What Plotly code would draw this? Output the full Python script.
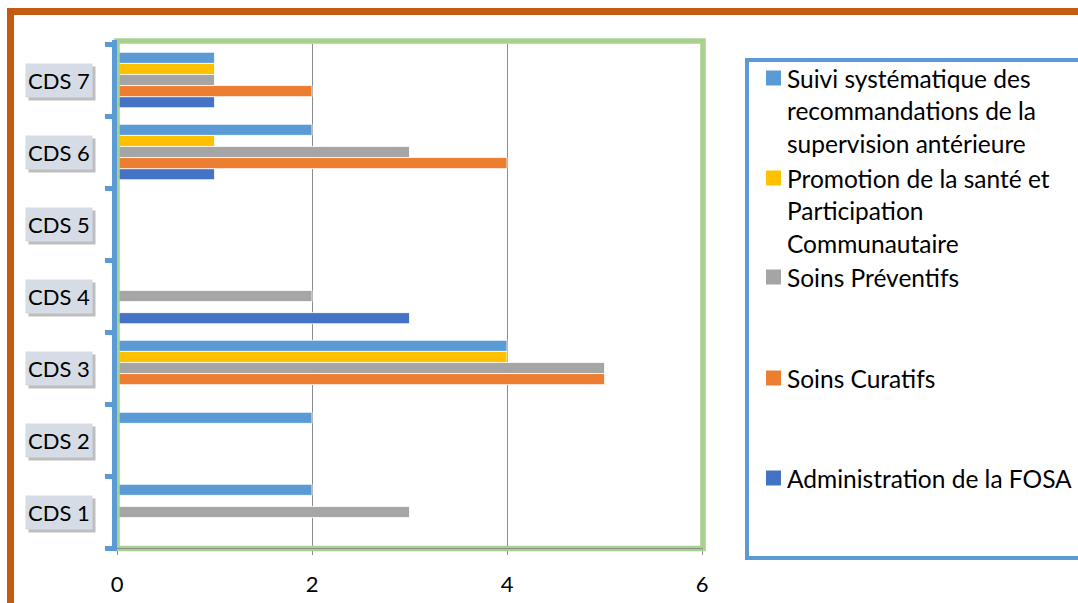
import plotly.graph_objects as go

# ---- data ----
categories = ["CDS 1", "CDS 2", "CDS 3", "CDS 4", "CDS 5", "CDS 6", "CDS 7"]
admin_fosa = [0, 0, 0, 3, 0, 1, 1]
soins_curatifs = [0, 0, 5, 0, 0, 4, 2]
soins_preventifs = [3, 0, 5, 2, 0, 3, 1]
promotion_sante = [0, 0, 4, 0, 0, 1, 1]
suivi_recommandations = [2, 2, 4, 0, 0, 2, 1]

series_names = [
    "Administration de la FOSA",
    "Soins Curatifs",
    "Soins Préventifs",
    "Promotion de la santé et Participation Communautaire",
    "Suivi systématique des recommandations de la supervision antérieure",
]
series_values = [admin_fosa, soins_curatifs, soins_preventifs, promotion_sante, suivi_recommandations]
series_colors = ["#4472c4", "#ed7d31", "#a5a5a5", "#ffc000", "#5b9bd5"]

# legend (top to bottom), wrapped as in the original
legend_lines = [
    ["Suivi systématique des", "recommandations de la", "supervision antérieure"],
    ["Promotion de la santé et", "Participation", "Communautaire"],
    ["Soins Préventifs"],
    ["Soins Curatifs"],
    ["Administration de la FOSA"],
]
legend_colors = ["#5b9bd5", "#ffc000", "#a5a5a5", "#ed7d31", "#4472c4"]
x_ticks = [0, 2, 4, 6]

W, H = 1078, 603
PL, PR, PT, PB = 117, 702, 44, 548
FONT = "Lato"


def px(x):
    return (x - PL) / (PR - PL)


def py(y):
    return (PB - y) / (PB - PT)


fig = go.Figure()
for name, vals, col in zip(series_names, series_values, series_colors):
    fig.add_trace(go.Bar(
        y=categories, x=vals, orientation="h", name=name,
        marker=dict(color=col, line=dict(color="rgba(255,255,255,0.8)", width=1)),
    ))

shapes = []
# outer orange frame
shapes.append(dict(type="rect", xref="paper", yref="paper",
                   x0=px(10.5), x1=px(1095), y0=py(11.5), y1=py(620),
                   line=dict(color="#c55a11", width=7), fillcolor="rgba(0,0,0,0)", layer="above"))
# green plot border
shapes.append(dict(type="rect", xref="paper", yref="paper",
                   x0=px(117), x1=px(703), y0=py(41), y1=py(548.5),
                   line=dict(color="#a9d18e", width=5.5), fillcolor="rgba(0,0,0,0)", layer="above"))
# thin grey value-axis line inside the green border
shapes.append(dict(type="line", xref="paper", yref="paper",
                   x0=px(117), x1=px(703), y0=py(548.5), y1=py(548.5),
                   line=dict(color="#8c8c8c", width=1), layer="above"))
# blue category axis line over the border
shapes.append(dict(type="line", xref="paper", yref="paper",
                   x0=px(114.5), x1=px(114.5), y0=py(40), y1=py(551),
                   line=dict(color="#5b9bd5", width=5), layer="above"))
# legend box
shapes.append(dict(type="rect", xref="paper", yref="paper",
                   x0=px(747), x1=px(1095), y0=py(60), y1=py(558),
                   line=dict(color="#5b9bd5", width=4), fillcolor="rgba(0,0,0,0)", layer="above"))

annotations = []
# category labels with shaded boxes
for i, cat in enumerate(categories):
    annotations.append(dict(
        xref="paper", yref="y", x=px(61.5), y=i, yshift=-3, text="",
        showarrow=False, width=64, height=31, bgcolor="rgba(70,70,70,0.35)",
        xanchor="center", yanchor="middle"))
    annotations.append(dict(
        xref="paper", yref="y", x=px(58.5), y=i, yshift=0, text=cat,
        showarrow=False, width=64, height=31, bgcolor="#d6dce5",
        font=dict(family=FONT, size=22, color="#000000"),
        xanchor="center", yanchor="middle"))

# legend
legend_top = [78, 178, 277, 378, 478]
line_step = 32.5
for lines, col, top in zip(legend_lines, legend_colors, legend_top):
    shapes.append(dict(type="rect", xref="paper", yref="paper",
                       x0=px(766), x1=px(781), y0=py(top - 7.5), y1=py(top + 7.5),
                       line=dict(width=0), fillcolor=col, layer="above"))
    for j, ln in enumerate(lines):
        annotations.append(dict(
            xref="paper", yref="paper", x=px(785), y=py(top + j * line_step),
            text=ln, showarrow=False, xanchor="left", yanchor="middle",
            font=dict(family=FONT, size=24.5, color="#000000")))

fig.update_layout(
    width=W, height=H,
    margin=dict(l=PL, r=W - PR, t=PT, b=H - PB, pad=0, autoexpand=False),
    paper_bgcolor="white", plot_bgcolor="white",
    barmode="group", bargap=0.23, bargroupgap=0,
    showlegend=False,
    font=dict(family=FONT, size=20, color="#000000"),
    xaxis=dict(range=[0, 6], tickvals=x_ticks, ticktext=[str(v) for v in x_ticks],
               automargin=False,
               showgrid=True, gridcolor="#8c8c8c", gridwidth=1,
               zeroline=False, showline=False,
               ticks="outside", ticklen=6, tickcolor="#8c8c8c", tickwidth=1,
               ticklabelstandoff=11,
               tickfont=dict(family=FONT, size=22, color="#000000")),
    yaxis=dict(type="category", categoryorder="array", categoryarray=categories,
               range=[-0.5, 6.5], showticklabels=False, automargin=False,
               showline=True, linecolor="#5b9bd5", linewidth=5,
               ticks="outside", tickson="boundaries", ticklen=7, tickwidth=5,
               tickcolor="#5b9bd5", showgrid=False, zeroline=False),
    shapes=shapes, annotations=annotations,
)

fig.write_html("out.html")
